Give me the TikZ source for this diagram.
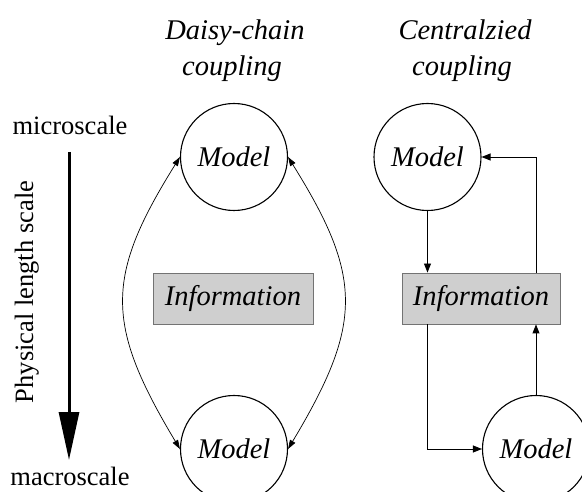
\documentclass[tikz,border=0pt]{standalone}
\usepackage{fontspec}
\setmainfont{Liberation Serif}
\usetikzlibrary{arrows.meta,calc}
\begin{document}
\begin{tikzpicture}[x=1pt,y=-1pt,
  lab/.style={font=\fontsize{28.5}{30}\selectfont\itshape},
  rom/.style={font=\fontsize{26.5}{28}\selectfont,inner sep=0pt},
  model/.style={circle,draw,line width=1.1pt,minimum size=107pt,inner sep=0pt,lab},
  infobox/.style={draw=black!55,fill=black!19,line width=0.9pt,minimum width=160pt,minimum height=51pt,inner sep=0pt,lab},
  conn/.style={line width=0.9pt,-{Triangle[length=9pt,width=7pt]}},
  curv/.style={line width=0.7pt,{Triangle[length=9pt,width=6pt]}-{Triangle[length=9pt,width=6pt]}}]

\clip (0,0) rectangle (582,492);
\useasboundingbox (0,0) rectangle (582,492);

\node[lab,anchor=base] (t1a) at (235,40) {Daisy-chain};
\node[lab,anchor=base] (t1b) at (232,76) {coupling};
\node[lab,anchor=base] (t2a) at (465,40) {Centralzied};
\node[lab,anchor=base] (t2b) at (462,76) {coupling};

\node[rom,anchor=base] (micro) at (70,135) {microscale};
\node[rom,anchor=base] (macro) at (70,485) {macroscale};
\node[rom,anchor=base,rotate=90] (phys) at (33,292) {Physical length scale};
\coordinate (aS) at (69,152);
\coordinate (aE) at (69,460);
\draw[line width=3pt,-{Triangle[length=48pt,width=20pt]}] (aS) -- (aE);

\node[model] (tl) at (234,157) {Model};
\node[model] (bl) at (234,449) {Model};
\node[model] (tr) at (427.5,157) {Model};
\node[model] (br) at (536,449) {Model};

\node[infobox] (il) at (233,298.5) {Information};
\node[infobox,minimum width=158pt] (ir) at (481,298.5) {Information};

\draw[curv] (tl.west) .. controls +(-75,120) and +(-75,-125) .. (bl.west);
\draw[curv] (tl.east) .. controls +(75,120) and +(75,-125) .. (bl.east);

\draw[conn] (tr.south) -- (tr.south |- ir.north);
\draw[conn] (ir.north -| br.center) |- (tr.east);
\draw[conn] (ir.south -| tr.center) |- (br.west);
\draw[conn] (br.north) -- (br.north |- ir.south);
\end{tikzpicture}
\end{document}
